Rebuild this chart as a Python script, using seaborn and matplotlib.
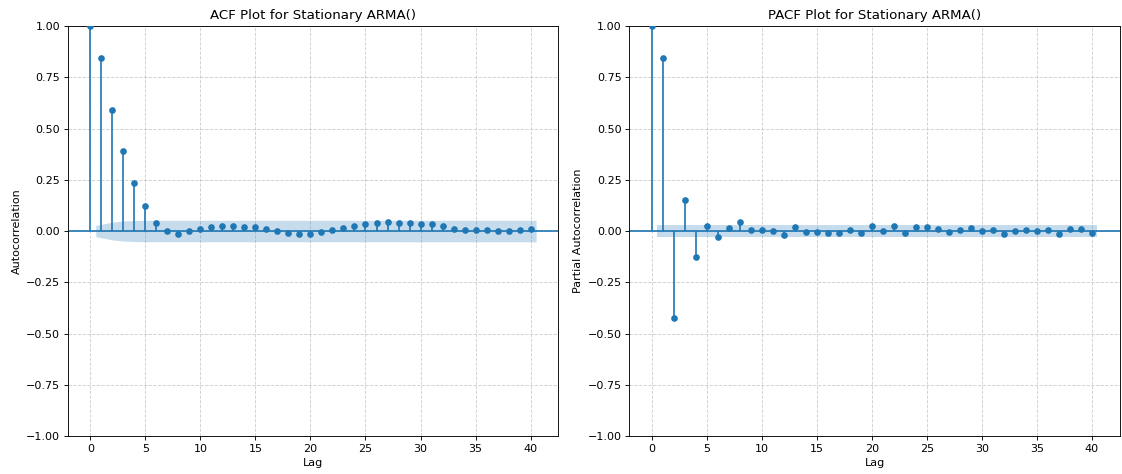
import numpy as np
import pandas as pd
import seaborn as sns
import matplotlib.pyplot as plt

# values
lags = list(range(41))
acf_vals = [1.0, 0.845, 0.59, 0.39, 0.235, 0.12, 0.04, 0.0, -0.015, 0.0,
            0.01, 0.02, 0.025, 0.025, 0.02, 0.02, 0.01, 0.0, -0.01, -0.015,
            -0.015, -0.007, 0.005, 0.013, 0.023, 0.033, 0.04, 0.046, 0.04, 0.04,
            0.036, 0.033, 0.024, 0.011, 0.003, 0.003, 0.005, 0.0, 0.002, 0.005,
            0.01]
pacf_vals = [1.0, 0.845, -0.424, 0.151, -0.128, 0.024, -0.029, 0.013, 0.042, 0.005,
             0.005, 0.0, -0.02, 0.018, -0.003, -0.003, -0.011, -0.011, 0.005, -0.008,
             0.023, -0.002, 0.023, -0.01, 0.018, 0.018, 0.01, -0.007, 0.005, 0.015,
             -0.002, 0.003, -0.015, 0.002, 0.005, -0.002, 0.005, -0.015, 0.01, 0.01,
             -0.011]
nobs = 5000
titles = ['ACF Plot for Stationary ARMA()', 'PACF Plot for Stationary ARMA()']
ylabels = ['Autocorrelation', 'Partial Autocorrelation']


def conf_band(vals, bartlett):
    # 95% band around zero, as statsmodels computes it
    vals = np.asarray(vals)
    var = np.ones(len(vals)) / nobs
    if bartlett:
        var[0] = 0
        var[2:] *= 1 + 2 * np.cumsum(vals[1:-1] ** 2)
    return 1.959964 * np.sqrt(var)


def draw(ax, vals, title, ylabel, bartlett):
    df = pd.DataFrame({'lag': lags, 'value': vals})
    ax.vlines(df['lag'], 0, df['value'], color='C0', linewidth=1.5)
    ax.axhline(0, color='C0', linewidth=1.5)
    sns.scatterplot(data=df, x='lag', y='value', ax=ax, color='C0', s=36,
                    linewidth=0, zorder=3)
    band = conf_band(vals, bartlett)[1:]
    x_band = np.array(lags[1:], dtype=float)
    x_band[0] -= 0.5
    x_band[-1] += 0.5
    ax.fill_between(x_band, -band, band, color='C0', alpha=0.25, linewidth=0)
    ax.margins(0.05)
    ax.set_ylim(-1, 1)
    ax.set_title(title)
    ax.set_xlabel('Lag')
    ax.set_ylabel(ylabel)
    ax.grid(True, linestyle='--', alpha=0.6)
    ax.set_axisbelow(True)


fig, axes = plt.subplots(1, 2, figsize=(14.025, 5.925), dpi=80)
draw(axes[0], acf_vals, titles[0], ylabels[0], True)
draw(axes[1], pacf_vals, titles[1], ylabels[1], False)
plt.subplots_adjust(left=0.0606, right=0.998, top=0.945, bottom=0.0802, wspace=0.1446)
plt.savefig('out.png', dpi=80)
plt.close()
